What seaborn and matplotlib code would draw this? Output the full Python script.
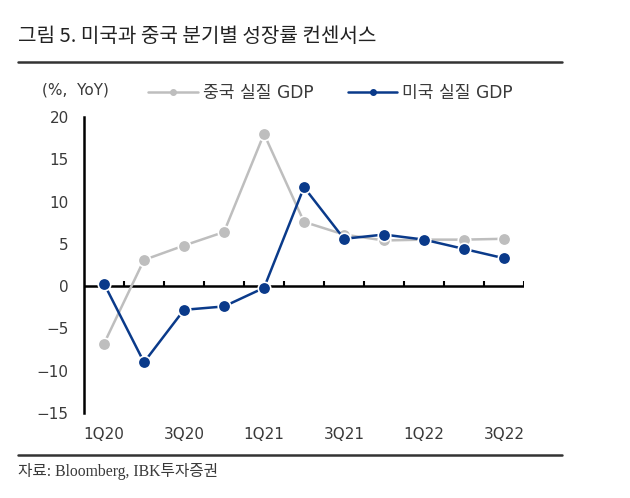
import numpy as np
import pandas as pd
import matplotlib
matplotlib.use('Agg')
import matplotlib.pyplot as plt
from matplotlib.lines import Line2D
import seaborn as sns

# ── Data ────────────────────────────────────────────────────
quarters = ['1Q20', '2Q20', '3Q20', '4Q20', '1Q21', '2Q21',
            '3Q21', '4Q21', '1Q22', '2Q22', '3Q22']
china_gdp = [-6.8, 3.1, 4.8, 6.4, 18.0, 7.6, 6.1, 5.4, 5.5, 5.5, 5.6]
us_gdp = [0.3, -9.0, -2.8, -2.4, -0.2, 11.7, 5.6, 6.1, 5.5, 4.4, 3.3]
series_names = ['중국 실질 GDP', '미국 실질 GDP']
tick_labels = ['1Q20', '', '3Q20', '', '1Q21', '', '3Q21', '', '1Q22', '', '3Q22']

df = pd.DataFrame({
    'Quarter': quarters * 2,
    'Idx': list(range(len(quarters))) * 2,
    'Growth': china_gdp + us_gdp,
    'Series': [series_names[0]] * len(quarters) + [series_names[1]] * len(quarters),
})

# ── Style ───────────────────────────────────────────────────
sns.set_style('white')
plt.rcParams['font.family'] = ['DejaVu Sans', 'Noto Sans CJK KR']

GRAY = '#BEBEBE'
NAVY = '#0A3A8A'
TEXT = '#3a3a3a'

fig = plt.figure(figsize=(6.3, 4.98), dpi=100)
ax = fig.add_axes([84 / 630, 1 - 413 / 498, 440 / 630, 296 / 498])

sns.lineplot(data=df, x='Idx', y='Growth', hue='Series',
             palette={series_names[0]: GRAY, series_names[1]: NAVY},
             marker='o', markersize=9, markeredgecolor='white',
             markeredgewidth=1.2, linewidth=1.8, ax=ax, legend=False)

ax.set_xlim(-0.5, len(quarters) - 0.5)
ax.set_ylim(-15, 20)
ax.set_yticks(np.arange(-15, 21, 5))
ax.set_xticks(range(len(quarters)))
ax.set_xticklabels(tick_labels)
ax.set_xlabel('')
ax.set_ylabel('')

for s in ['top', 'right', 'bottom']:
    ax.spines[s].set_visible(False)
ax.spines['left'].set_linewidth(1.8)
ax.spines['left'].set_color('black')

ax.tick_params(axis='y', direction='in', length=5, width=1.5,
               labelsize=11, labelcolor=TEXT, pad=11)
ax.tick_params(axis='x', length=0, labelsize=11, labelcolor=TEXT, pad=10)

# zero line with category boundary ticks
ax.axhline(0, color='black', linewidth=1.8, zorder=1)
ax.vlines(np.arange(-0.5, len(quarters), 1), 0, 0.6, color='black',
          linewidth=1.5, zorder=1)

# ── Legend & labels ─────────────────────────────────────────
handles = [Line2D([0], [0], color=GRAY, lw=1.8, marker='o', markersize=4),
           Line2D([0], [0], color=NAVY, lw=1.8, marker='o', markersize=4)]
fig.legend(handles, series_names, loc='center left',
           bbox_to_anchor=(133 / 630, 1 - 93 / 498), ncol=2, frameon=False,
           prop={'size': 12.3}, handlelength=2.9, handletextpad=0.3,
           columnspacing=2.0, labelcolor=TEXT)

fig.text(75 / 630, 1 - 90 / 498, '(%,  YoY)', ha='center', va='center',
         fontsize=11, color=TEXT)

fig.text(18 / 630, 1 - 37 / 498, '그림 5. 미국과 중국 분기별 성장률 컨센서스',
         ha='left', va='center', fontsize=14.5, color='#222222',
         family=['Noto Sans CJK KR'], weight='medium')
fig.add_artist(Line2D([18 / 630, 562 / 630], [1 - 62 / 498] * 2,
                      color='#333333', lw=1.8, transform=fig.transFigure))
fig.add_artist(Line2D([18 / 630, 562 / 630], [1 - 455 / 498] * 2,
                      color='#333333', lw=1.8, transform=fig.transFigure))
fig.text(18 / 630, 1 - 471 / 498, '자료: Bloomberg, IBK투자증권',
         ha='left', va='center', fontsize=11.3, color=TEXT,
         family=['Liberation Serif', 'Noto Sans CJK KR'])

plt.savefig('out.png', dpi=100)
